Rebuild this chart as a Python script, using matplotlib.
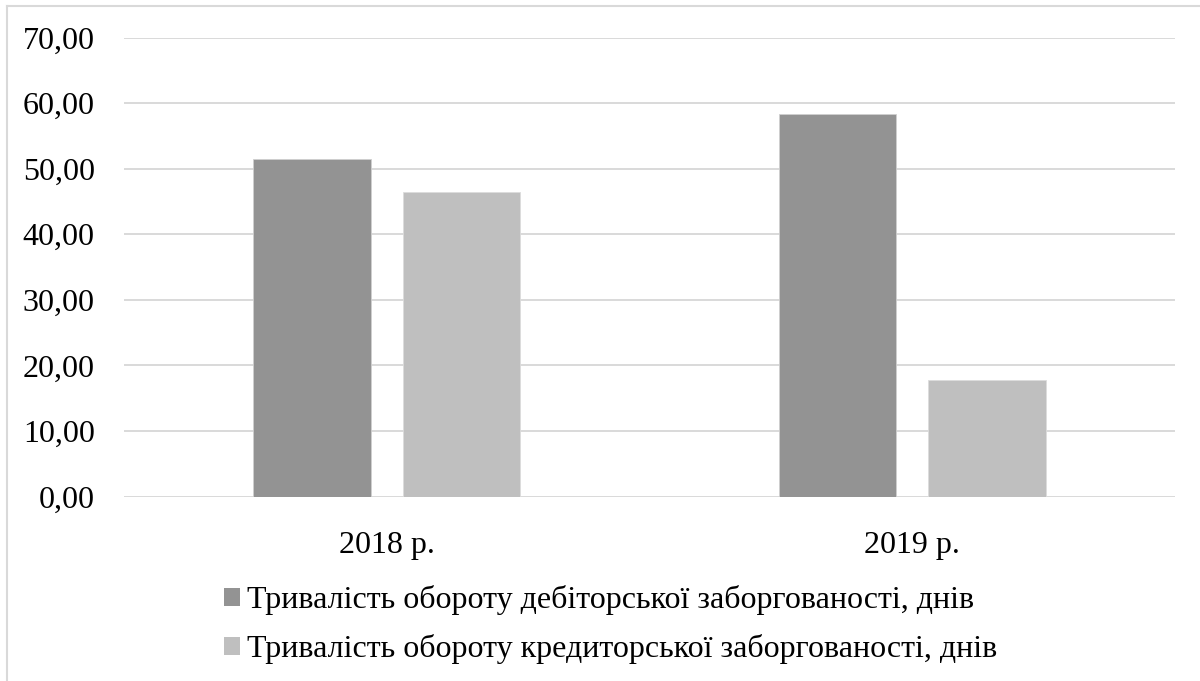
import matplotlib
matplotlib.use("Agg")
import matplotlib.pyplot as plt
import numpy as np
from matplotlib.lines import Line2D

categories = ["2018 р.", "2019 р."]
series_names = ["Тривалість обороту дебіторської заборгованості, днів",
                "Тривалість обороту кредиторської заборгованості, днів"]
receivable = [51.53, 58.30]
payable = [46.40, 17.78]
yticks = [0, 10, 20, 30, 40, 50, 60, 70]
ytick_labels = ["0,00", "10,00", "20,00", "30,00", "40,00", "50,00", "60,00", "70,00"]
colors = ["#939393", "#bfbfbf"]

plt.rcParams['font.family'] = ['Liberation Serif', 'DejaVu Serif']

W, H = 1200, 681
fig = plt.figure(figsize=(W / 100, H / 100), dpi=100)
fig.add_artist(Line2D([6.5 / W, 6.5 / W], [0, 1 - 5.5 / H], transform=fig.transFigure,
                      color="#d9d9d9", linewidth=1.5))
fig.add_artist(Line2D([6.5 / W, 1.0], [1 - 5.5 / H, 1 - 5.5 / H], transform=fig.transFigure,
                      color="#d9d9d9", linewidth=1.5))

ax_l, ax_r = 124, 1175
ax_b, ax_t = 681 - 496.7, 681 - 37.5
ax = fig.add_axes([ax_l / W, ax_b / H, (ax_r - ax_l) / W, (ax_t - ax_b) / H])

x = np.arange(len(categories))
bw = 0.2236
off = 0.1422
ax.bar(x - off, receivable, bw, color=colors[0], edgecolor="#d0d0d0", linewidth=0.6,
       label=series_names[0], zorder=3)
ax.bar(x + off, payable, bw, color=colors[1], edgecolor="#dcdcdc", linewidth=0.6,
       label=series_names[1], zorder=3)

ax.set_xlim(-0.5, 1.5)
ax.set_ylim(0, 70)
ax.set_yticks(yticks)
ax.set_yticklabels(ytick_labels)
ax.set_xticks(x)
ax.set_xticklabels(categories)
ax.tick_params(axis='y', length=0, pad=21, labelsize=23)
ax.tick_params(axis='x', length=0, pad=25, labelsize=23)
for s in ax.spines.values():
    s.set_visible(False)
ax.grid(axis='y', color="#d9d9d9", linewidth=1.4, zorder=0)
ax.set_axisbelow(True)

leg = fig.legend(loc='upper left', bbox_to_anchor=(224 / W, 1 - 585 / H),
                 fontsize=23, frameon=False, handlelength=0.5, handleheight=0.5,
                 handletextpad=0.22, labelspacing=0.61, borderaxespad=0, borderpad=0)
for h in leg.legend_handles:
    h.set_edgecolor('none')

fig.savefig("out.png", dpi=100)
